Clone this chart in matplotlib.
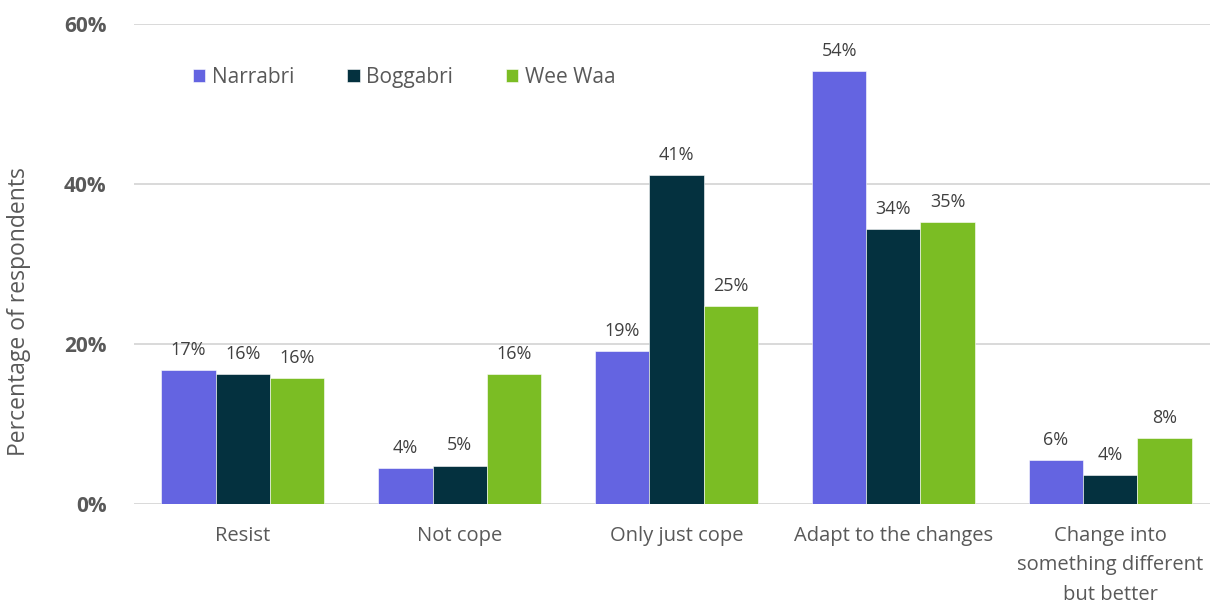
import matplotlib.pyplot as plt
import numpy as np

categories = ['Resist', 'Not cope', 'Only just cope', 'Adapt to the changes',
              'Change into\nsomething different\nbut better']
series = ['Narrabri', 'Boggabri', 'Wee Waa']
narrabri = [16.75, 4.5, 19.1, 54.1, 5.5]
boggabri = [16.2, 4.8, 41.1, 34.4, 3.6]
wee_waa = [15.7, 16.2, 24.75, 35.2, 8.2]
labels = [['17%', '4%', '19%', '54%', '6%'],
          ['16%', '5%', '41%', '34%', '4%'],
          ['16%', '16%', '25%', '35%', '8%']]
colors = ['#6464E1', '#04313F', '#7BBD24']

plt.rcParams['font.family'] = ['Open Sans', 'DejaVu Sans']
txt = '#595959'

fig = plt.figure(figsize=(12.1, 6.04), dpi=100)
ax = fig.add_axes([0.111, 0.1656, 0.889, 0.7944])

x = np.arange(len(categories))
w = 0.25
for i, (vals, name) in enumerate(zip([narrabri, boggabri, wee_waa], series)):
    bars = ax.bar(x + (i - 1) * w, vals, w, color=colors[i], label=name,
                  edgecolor='white', linewidth=0.4, zorder=3)
    for b, lab in zip(bars, labels[i]):
        ax.annotate(lab, (b.get_x() + b.get_width() / 2, b.get_height()),
                    xytext=(0, 8), textcoords='offset points',
                    ha='center', va='bottom', fontsize=13, color='#404040')

ax.set_ylim(0, 60)
ax.set_xlim(-0.5, 4.46)
ax.set_yticks([0, 20, 40, 60])
ax.set_yticklabels(['0%', '20%', '40%', '60%'], fontsize=15,
                   fontweight='bold', color=txt)
ax.set_xticks(x)
ax.set_xticklabels(categories, fontsize=14.5, color=txt, linespacing=1.62,
                   va='top')
ax.tick_params(axis='both', length=0)
ax.tick_params(axis='x', pad=16)
ax.tick_params(axis='y', pad=20)
ax.grid(axis='y', color='#d9d9d9', linewidth=1.4, zorder=0)
ax.set_axisbelow(True)
for s in ax.spines.values():
    s.set_visible(False)

ax.set_ylabel('Percentage of respondents', fontsize=16.5, color=txt)
ax.yaxis.set_label_coords(-0.096, 0.40)

ax.legend(loc='upper left', bbox_to_anchor=(0.037, 0.95), ncol=3, frameon=False,
          fontsize=15, labelcolor=txt, handlelength=0.6, handleheight=0.6,
          handletextpad=0.3, columnspacing=2.55)

fig.savefig('out.png', dpi=100)
